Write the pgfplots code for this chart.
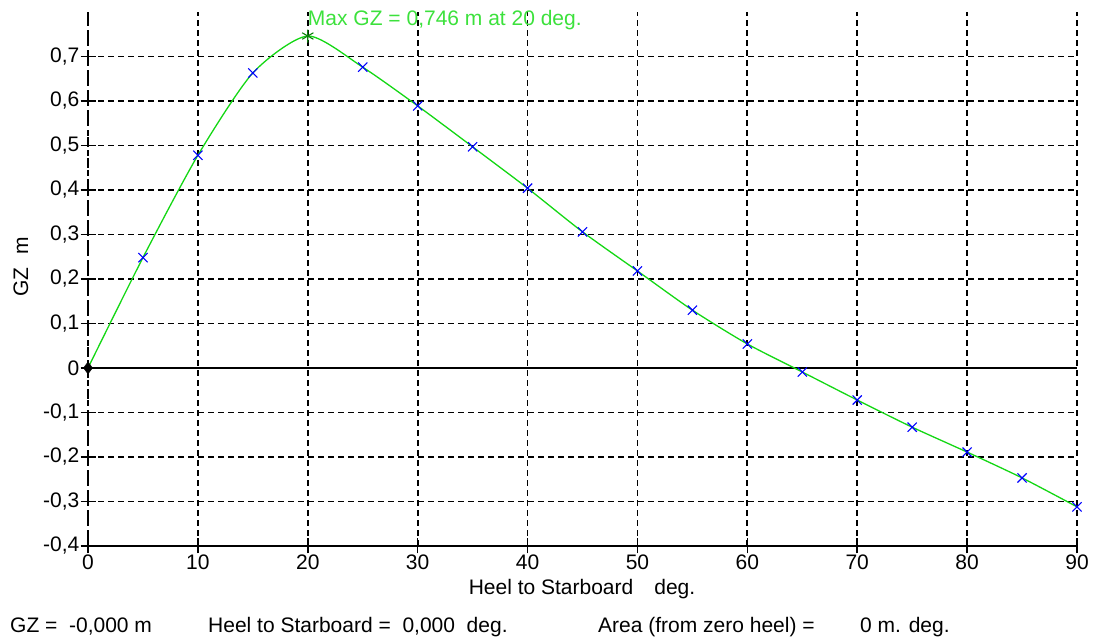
\documentclass[border=0pt]{standalone}
\usepackage{fontspec}
\setmainfont{Liberation Sans}
\usepackage{pgfplots}
\usepackage{pgfplotstable}
\pgfplotsset{compat=1.18}
\definecolor{gzgreen}{RGB}{20,215,20}
\definecolor{txtgreen}{RGB}{60,225,60}
\pgfplotstableread{
x y
0 0
5 0.248
10 0.478
15 0.663
20 0.746
25 0.676
30 0.589
35 0.497
40 0.404
45 0.306
50 0.218
55 0.130
60 0.054
65 -0.009
70 -0.072
75 -0.133
80 -0.189
85 -0.247
90 -0.312
}\gzdata
\pgfplotstableread{
x y
5 0.248
10 0.478
15 0.663
25 0.676
30 0.589
35 0.497
40 0.404
45 0.306
50 0.218
55 0.130
60 0.054
65 -0.009
70 -0.072
75 -0.133
80 -0.189
85 -0.247
90 -0.312
}\gzmarks
\begin{document}
\fontsize{21bp}{25bp}\selectfont
\begin{tikzpicture}[x=1bp,y=1bp]
\useasboundingbox (0,0) rectangle (1098,641);
\begin{axis}[
  at={(88bp,95bp)}, anchor=south west,
  scale only axis, width=989bp, height=534bp,
  xmin=0, xmax=90, ymin=-0.4, ymax=0.8,
  axis lines=left,
  axis line style={-, line width=1.6bp, black},
  y axis line style={dash pattern=on 10bp off 11bp},
  xtick={0,10,20,30,40,50,60,70,80,90},
  xticklabels={0,10,20,30,40,50,60,70,80,90},
  ytick={-0.4,-0.3,-0.2,-0.1,0,0.1,0.2,0.3,0.4,0.5,0.6,0.7},
  yticklabels={{-0,4},{-0,3},{-0,2},{-0,1},{0},{0,1},{0,2},{0,3},{0,4},{0,5},{0,6},{0,7}},
  tick style={black, line width=1.6bp},
  major tick length=15bp, tick align=center,
  grid=major,
  major grid style={black, line width=1.8bp, dash pattern=on 6bp off 4bp},
  xticklabel style={font=\fontsize{21bp}{25bp}\selectfont, anchor=north, inner sep=0pt, yshift=-1bp},
  yticklabel style={font=\fontsize{21bp}{25bp}\selectfont, anchor=east, inner sep=0pt, xshift=-1bp},
  clip=false,
]
\addplot[black, line width=1.8bp, forget plot] coordinates {(0,0) (90,0)};
\addplot[gzgreen, line width=1.3bp, smooth, tension=0.42] table {\gzdata};
\addplot[blue, only marks, mark=x, mark size=6.5bp, line width=1.1bp] table {\gzmarks};
\addplot[gzgreen!60!black, only marks, mark=asterisk, mark size=6.5bp, line width=1.1bp] coordinates {(20,0.746)};
\addplot[black, only marks, mark=diamond*, mark size=6bp] coordinates {(0,0)};
\node[txtgreen, anchor=west, inner sep=0pt] at (axis cs:20,0.782) {Max GZ = 0,746 m at 20 deg.};
\end{axis}
\node[rotate=90] at (21,374) {GZ\hspace{0.6em}m};
\node[anchor=base, inner sep=0pt] at (582,46) {Heel to Starboard\hspace{1em}deg.};
\node[anchor=base west, inner sep=0pt] at (10,8) {GZ =\ \ -0,000 m};
\node[anchor=base west, inner sep=0pt] at (208,8) {Heel to Starboard =\ \ 0,000\ \ deg.};
\node[anchor=base west, inner sep=0pt] at (598,8) {Area (from zero heel) =};
\node[anchor=base west, inner sep=0pt] at (860,8) {0 m. deg.};
\end{tikzpicture}
\end{document}
